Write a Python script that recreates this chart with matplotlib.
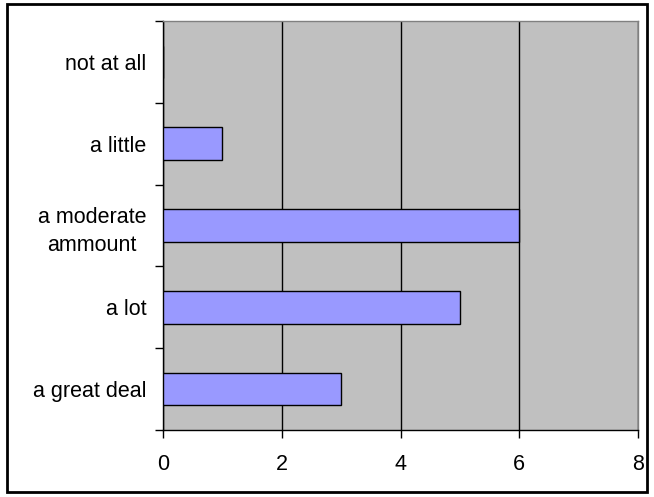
import matplotlib
matplotlib.use("Agg")
import matplotlib.pyplot as plt
from matplotlib.patches import Rectangle

categories = ["a great deal", "a lot", "a moderate\nammount", "a little", "not at all"]
values = [3, 5, 6, 1, 0]
x_ticks = [0, 2, 4, 6, 8]

plt.rcParams["font.family"] = ["Liberation Sans", "DejaVu Sans"]
FS = 15.5

fig = plt.figure(figsize=(6.54, 4.97), dpi=100)
fig.patch.set_facecolor("white")
fig.patches.append(Rectangle((7 / 654, 5 / 497), 640 / 654, 488 / 497,
                             transform=fig.transFigure, fill=False,
                             edgecolor="black", linewidth=2))

ax = fig.add_axes([163 / 654, 1 - 430 / 497, 475 / 654, 409 / 497])
ax.set_facecolor("#C0C0C0")

pos = list(range(len(categories)))
ax.barh(pos, values, height=0.4, color="#9999FF", edgecolor="black",
        linewidth=1, zorder=3)

ax.set_xlim(0, 8)
ax.set_ylim(-0.5, len(categories) - 0.5)
ax.set_xticks(x_ticks)
ax.set_xticklabels([str(t) for t in x_ticks], fontsize=FS)
ax.xaxis.grid(True, color="black", linewidth=1, zorder=1)
ax.set_axisbelow(True)

ax.set_yticks(pos)
ax.set_yticklabels(categories, fontsize=FS, ha="right", multialignment="center",
                   linespacing=1.45)
ax.tick_params(axis="y", length=0, pad=12)
ax.set_yticks([p - 0.5 for p in range(len(categories) + 1)], minor=True)
ax.tick_params(axis="y", which="minor", length=6, width=1, color="black")
ax.tick_params(axis="x", length=6, width=1, pad=11)

for s in ["top", "right"]:
    ax.spines[s].set_color("#808080")
    ax.spines[s].set_linewidth(1)
for s in ["left", "bottom"]:
    ax.spines[s].set_color("black")
    ax.spines[s].set_linewidth(1)

fig.savefig("out.png", dpi=100)
